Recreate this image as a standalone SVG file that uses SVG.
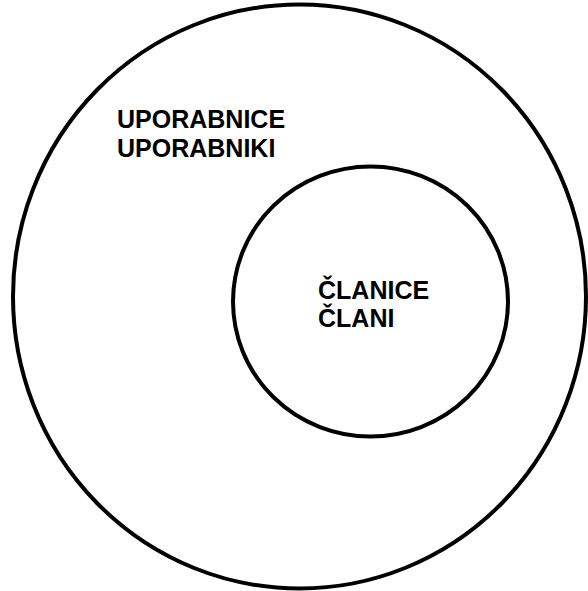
<svg xmlns="http://www.w3.org/2000/svg" width="588" height="591" viewBox="0 0 588 591">
<style>
.c{fill:none;stroke:#000;stroke-width:4}
.t{font-family:"Liberation Sans",Arial,sans-serif;font-weight:bold;font-size:25px;fill:#000}
</style>
<rect width="588" height="591" fill="#fff"/>
<g id="outer">
<ellipse class="c" cx="299.5" cy="296.5" rx="286.5" ry="292"/>
<text class="t" x="117" y="128">UPORABNICE</text>
<text class="t" x="117" y="157">UPORABNIKI</text>
</g>
<g id="inner">
<ellipse class="c" cx="370.5" cy="301.5" rx="137.5" ry="135"/>
<text class="t" x="318" y="299">ČLANICE</text>
<text class="t" x="318" y="327">ČLANI</text>
</g>
<g id="connectors"/>
</svg>
